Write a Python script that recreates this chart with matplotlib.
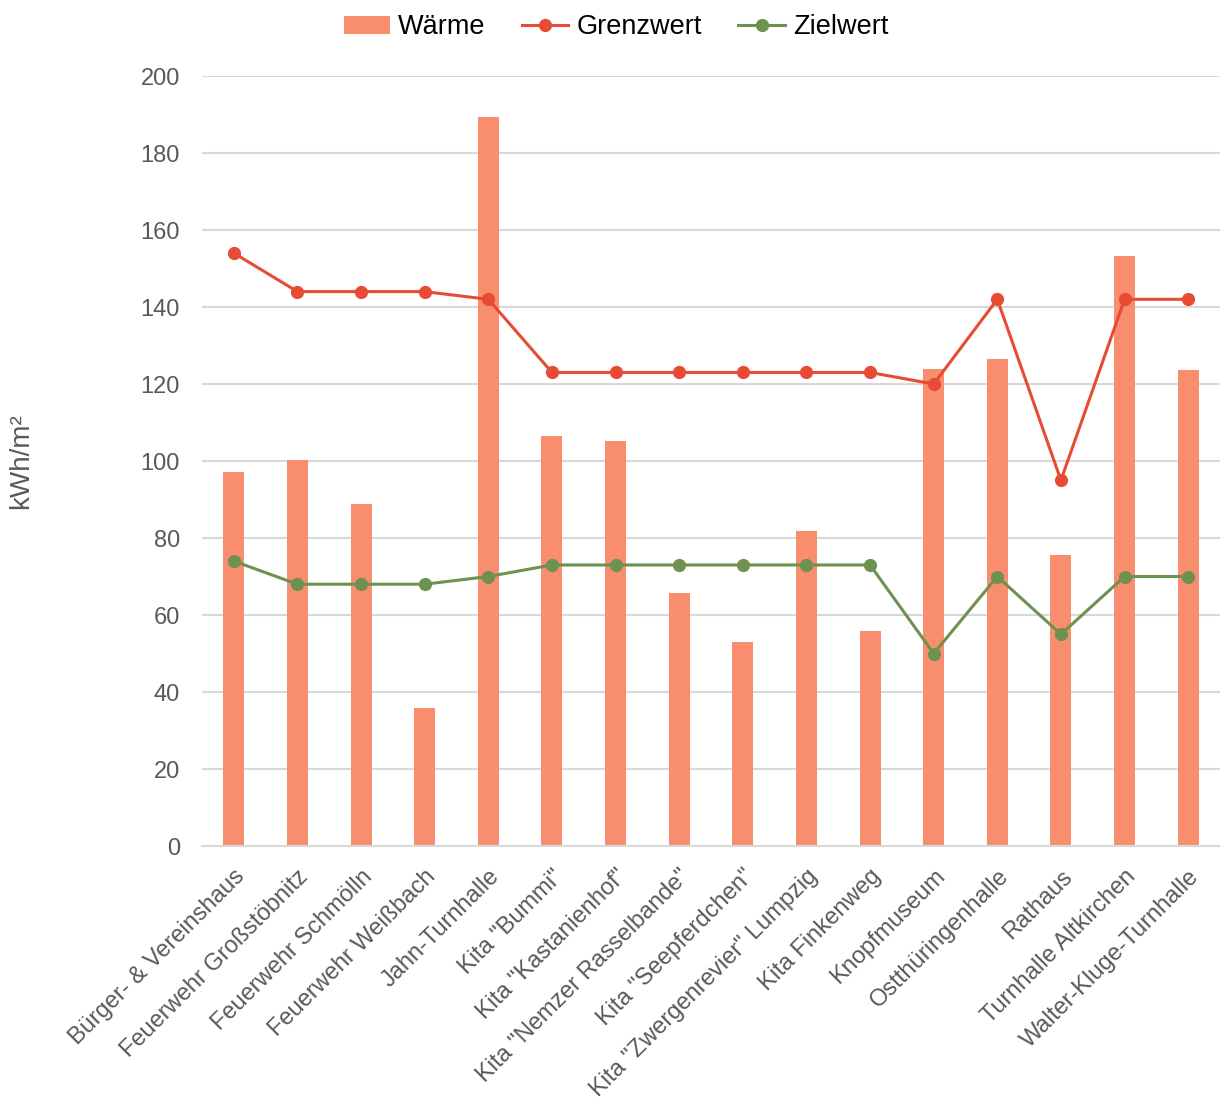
import matplotlib.pyplot as plt
import numpy as np

plt.rcParams['font.family'] = ['Liberation Sans', 'DejaVu Sans']

gebaeude = ['Bürger- & Vereinshaus', 'Feuerwehr Großstöbnitz', 'Feuerwehr Schmölln',
            'Feuerwehr Weißbach', 'Jahn-Turnhalle', 'Kita "Bummi"', 'Kita "Kastanienhof"',
            'Kita "Nemzer Rasselbande"', 'Kita "Seepferdchen"', 'Kita "Zwergenrevier" Lumpzig',
            'Kita Finkenweg', 'Knopfmuseum', 'Ostthüringenhalle', 'Rathaus',
            'Turnhalle Altkirchen', 'Walter-Kluge-Turnhalle']
waerme = [97.1, 100.3, 88.8, 35.8, 189.3, 106.5, 105.2, 65.7, 53.0, 81.8,
          55.8, 123.9, 126.4, 75.6, 153.2, 123.6]
grenzwert = [154, 144, 144, 144, 142, 123, 123, 123, 123, 123, 123, 120, 142, 95, 142, 142]
zielwert = [74, 68, 68, 68, 70, 73, 73, 73, 73, 73, 73, 50, 70, 55, 70, 70]

grau = '#595959'
x = np.arange(len(gebaeude))

fig = plt.figure(figsize=(12.2, 11), dpi=100, facecolor='white')
ax = fig.add_axes([0.1656, 0.2309, 0.8344, 0.7])

b = ax.bar(x, waerme, width=0.33, color='#F98E6F', label='Wärme', zorder=2)
l1, = ax.plot(x, grenzwert, '-o', color='#E84B33', lw=2.2, ms=8.5, label='Grenzwert', zorder=3)
l2, = ax.plot(x, zielwert, '-o', color='#6F9150', lw=2.2, ms=8.5, label='Zielwert', zorder=3)

ax.set_xlim(-0.5, len(gebaeude) - 0.5)
ax.set_ylim(0, 200)
ax.set_yticks(range(0, 201, 20))
ax.grid(axis='y', color='#d9d9d9', lw=1.5, zorder=0)
ax.set_axisbelow(True)
for s in ['top', 'right', 'left']:
    ax.spines[s].set_visible(False)
ax.spines['bottom'].set_color('#d9d9d9')
ax.spines['bottom'].set_linewidth(1.5)

ax.set_xticks(x)
ax.set_xticklabels(gebaeude, rotation=45, ha='right', rotation_mode='anchor')
ax.tick_params(axis='both', length=0, labelsize=17, colors=grau)
ax.tick_params(axis='y', pad=16)
ax.tick_params(axis='x', pad=14)
ax.set_ylabel('kWh/m²', fontsize=20, color=grau)
ax.yaxis.set_label_coords(-0.165, 0.5)

fig.legend([b, l1, l2], ['Wärme', 'Grenzwert', 'Zielwert'], loc='upper center',
           bbox_to_anchor=(0.505, 1.009), ncol=3, frameon=False, fontsize=19.5,
           handlelength=1.7, columnspacing=1.35, handletextpad=0.3)

fig.savefig('out.png', dpi=100, facecolor='white')
